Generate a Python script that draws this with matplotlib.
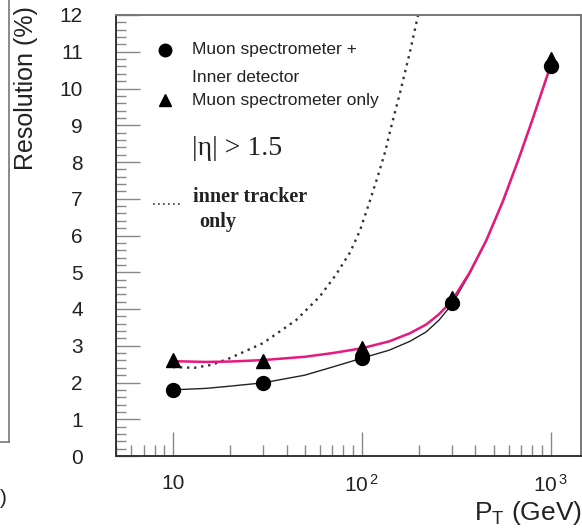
import matplotlib
matplotlib.use("Agg")
import matplotlib.pyplot as plt
from matplotlib.lines import Line2D
from matplotlib.ticker import FixedLocator, AutoMinorLocator, FuncFormatter, NullFormatter

plt.rcParams['font.family'] = ['Liberation Sans', 'DejaVu Sans']
plt.rcParams['mathtext.fontset'] = 'custom'
plt.rcParams['mathtext.rm'] = 'Liberation Sans'
plt.rcParams['mathtext.it'] = 'Liberation Sans'

# measured points
pt_points = [10, 30, 100, 300, 1000]
res_combined = [1.80, 1.98, 2.68, 4.17, 10.6]
res_muon_only = [2.60, 2.58, 2.94, 4.30, 10.8]

# fitted curves
fit_comb_x = [10, 15, 20, 30, 50, 70, 100, 140, 180, 220, 257, 300, 372, 457, 560, 686, 805, 1000]
fit_comb_y = [1.80, 1.84, 1.90, 1.99, 2.20, 2.42, 2.66, 2.88, 3.12, 3.38, 3.70, 4.12, 4.95, 5.85, 6.92, 8.14, 9.16, 10.6]
fit_muon_x = [10, 15, 20, 30, 50, 70, 100, 140, 180, 220, 257, 300, 372, 457, 560, 686, 805, 1000]
fit_muon_y = [2.58, 2.56, 2.57, 2.61, 2.70, 2.80, 2.93, 3.12, 3.34, 3.58, 3.86, 4.22, 4.98, 5.87, 6.94, 8.16, 9.18, 10.62]

# inner tracker only (dotted)
inner_x = [10, 13, 16, 20, 30, 45, 60, 73, 87, 98, 110, 122, 133, 143, 159, 180, 199]
inner_y = [2.42, 2.40, 2.48, 2.66, 3.07, 3.70, 4.34, 4.93, 5.55, 6.14, 6.91, 7.63, 8.27, 8.94, 9.85, 10.99, 12.0]

x_major = [10, 100, 1000]
x_labels = {10: '10', 100: r'$\mathregular{10^{\,2}}$', 1000: r'$\mathregular{10^{\,3}}$'}

fig = plt.figure(figsize=(5.82, 5.28), dpi=100)
ax = fig.add_axes([116 / 582, 72 / 528, 465 / 582, 441 / 528])

ax.plot(inner_x, inner_y, color='#333333', lw=1.7, linestyle=(0, (1, 2.0)), zorder=2)
ax.plot(fit_comb_x, fit_comb_y, color='#222222', lw=1.0, zorder=3)
ax.plot(fit_muon_x, fit_muon_y, color='#e8197e', lw=1.8, zorder=4)
ax.plot(pt_points, res_muon_only, linestyle='none', marker='^', ms=10, color='black', zorder=5)
ax.plot(pt_points, res_combined, linestyle='none', marker='o', ms=10, color='black', zorder=6)

ax.set_xscale('log')
ax.set_xlim(5, 1450)
ax.set_ylim(0, 12)

ax.xaxis.set_major_locator(FixedLocator(x_major))
ax.xaxis.set_major_formatter(FuncFormatter(lambda v, p: x_labels.get(int(round(v)), '')))
ax.xaxis.set_minor_locator(FixedLocator([m * d for d in (1, 10, 100) for m in range(2, 10) if 5 <= m * d <= 1450]))
ax.xaxis.set_minor_formatter(NullFormatter())
ax.set_yticks(range(0, 13))
ax.yaxis.set_minor_locator(AutoMinorLocator(5))

ax.tick_params(axis='both', which='both', direction='in', colors='#888888', labelcolor='#222222',
               labelsize=15)
ax.tick_params(axis='y', which='major', length=17, width=1.0, pad=24, right=False)
ax.tick_params(axis='y', which='minor', length=7, width=1.0, right=False)
ax.tick_params(axis='x', which='major', length=17, width=1.0, pad=13, top=False)
ax.tick_params(axis='x', which='minor', length=8, width=1.0, top=False)

for side in ['left', 'bottom']:
    ax.spines[side].set_color('#333333')
    ax.spines[side].set_linewidth(1.4)
for side in ['top', 'right']:
    ax.spines[side].set_color('#777777')
    ax.spines[side].set_linewidth(1.4)

# legend drawn by hand
ax.plot([0.105], [0.921], marker='o', ms=9, color='black', transform=ax.transAxes, clip_on=False)
ax.plot([0.105], [0.807], marker='^', ms=9, color='black', transform=ax.transAxes, clip_on=False)
ax.text(0.163, 0.921, 'Muon spectrometer +', transform=ax.transAxes, fontsize=12.5,
        va='center', ha='left', color='#222222')
ax.text(0.163, 0.859, 'Inner detector', transform=ax.transAxes, fontsize=12.5,
        va='center', ha='left', color='#222222')
ax.text(0.163, 0.807, 'Muon spectrometer only', transform=ax.transAxes, fontsize=12.5,
        va='center', ha='left', color='#222222')
ax.text(0.163, 0.698, '|η| > 1.5', transform=ax.transAxes, fontsize=20,
        family=['Liberation Serif', 'DejaVu Serif'], va='center', ha='left', color='#222222')
ax.plot([0.080, 0.144], [0.571, 0.571], color='#333333', lw=1.2, linestyle=(0, (1, 2)),
        transform=ax.transAxes, clip_on=False)
ax.text(0.166, 0.587, 'inner tracker', transform=ax.transAxes, fontsize=14.5, fontweight='bold',
        family=['Liberation Serif', 'DejaVu Serif'], va='center', ha='left', color='#222222')
ax.text(0.178, 0.531, 'only', transform=ax.transAxes, fontsize=14.5, fontweight='bold',
        family=['Liberation Serif', 'DejaVu Serif'], va='center', ha='left', color='#222222')

# axis titles, ROOT style at the ends
fig.text(26 / 582, 1 - 6 / 528, 'Resolution (%)', rotation=90, ha='center', va='top',
         fontsize=18, color='#222222')
fig.text(1.0, 1 - 513 / 528, r'$\mathregular{P_T}$ (GeV)', ha='right', va='center',
         fontsize=19, color='#222222')

# remnant of the neighbouring panel on the left
fig.add_artist(Line2D([9 / 582, 9 / 582], [1.0, 1 - 442 / 528], color='#777777', lw=1.2))
fig.add_artist(Line2D([0, 9 / 582], [1 - 442 / 528, 1 - 442 / 528], color='#777777', lw=1.2))
fig.text(0.0, 1 - 499 / 528, ')', ha='left', va='center', fontsize=15, color='#222222')

fig.savefig('out.png', dpi=100)
